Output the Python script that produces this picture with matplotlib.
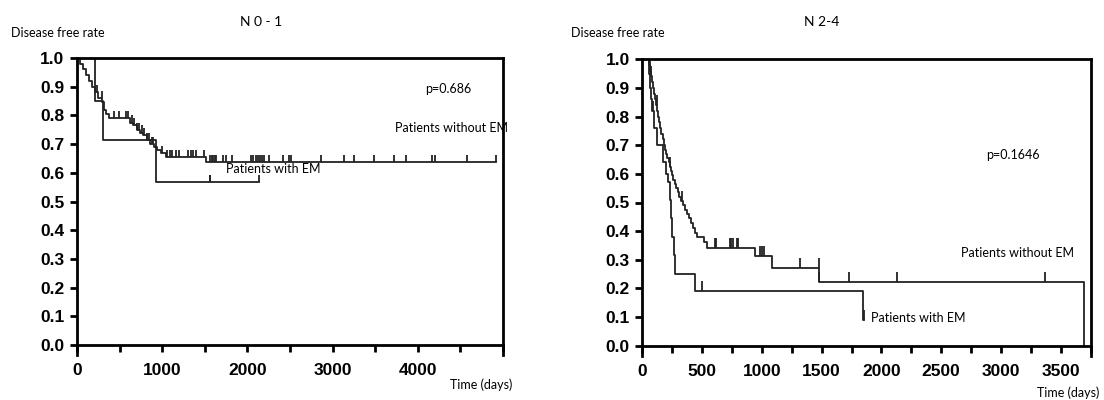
import numpy as np
import matplotlib
matplotlib.use("Agg")
import matplotlib.pyplot as plt
from matplotlib import font_manager as fm

# ---- data (days, disease free rate) ----
# N 0-1, patients without EM
left_noem_t = [40, 75, 110, 145, 180, 215, 250, 290, 320, 345, 370,
               620, 660, 700, 740, 780, 820, 860, 900, 940, 990, 1050, 1518]
left_noem_s = [0.98, 0.96, 0.94, 0.92, 0.90, 0.88, 0.86, 0.845, 0.82, 0.805, 0.79,
               0.775, 0.765, 0.75, 0.74, 0.73, 0.715, 0.70, 0.69, 0.68, 0.67, 0.656, 0.638]
left_noem_end = 4914
left_noem_cens = [235, 289, 437, 495, 574, 601, 640, 670, 700, 730, 760, 790, 820,
                  850, 880, 893, 992, 1058, 1090, 1120, 1160, 1198, 1303, 1333, 1363,
                  1393, 1491, 1565, 1580, 1600, 1620, 1636, 1713, 1753, 1823, 2045,
                  2070, 2100, 2130, 2150, 2170, 2200, 2252, 2416, 2486, 2514, 2865,
                  3130, 3247, 3489, 3716, 3861, 4165, 4204, 4582, 4914]

# N 0-1, patients with EM
left_em_t = [211, 308, 933]
left_em_s = [0.851, 0.714, 0.567]
left_em_end = 2131
left_em_cens = [1557, 1565, 2131]

# N 2-4, patients without EM
right_noem_t = [55, 62, 70, 78, 86, 95, 104, 113, 122, 131, 140, 150, 160, 170, 180,
                190, 200, 210, 220, 230, 240, 250, 260, 272, 284, 296, 310, 325, 340,
                355, 372, 390, 410, 428, 442, 456, 512, 540, 945, 1085, 1477, 3694]
right_noem_s = [0.98, 0.96, 0.94, 0.92, 0.90, 0.88, 0.86, 0.84, 0.82, 0.80, 0.78,
                0.76, 0.74, 0.72, 0.70, 0.685, 0.67, 0.655, 0.64, 0.625, 0.61, 0.595,
                0.58, 0.565, 0.55, 0.535, 0.52, 0.505, 0.49, 0.475, 0.46, 0.445, 0.43,
                0.41, 0.395, 0.38, 0.363, 0.34, 0.313, 0.270, 0.223, 0.0]
right_noem_end = 3694
right_noem_cens = [60, 65, 70, 120, 235, 330, 610, 618, 730, 745, 760, 790, 797,
                   981, 1002, 1015, 1323, 1475, 1480, 1728, 2134, 3370]

# N 2-4, patients with EM
right_em_t = [58, 65, 75, 85, 95, 121, 176, 200, 218, 232, 240, 250, 262, 274, 442, 1849]
right_em_s = [0.95, 0.90, 0.86, 0.82, 0.76, 0.70, 0.64, 0.60, 0.573, 0.509, 0.445,
              0.381, 0.317, 0.25, 0.192, 0.09]
right_em_end = 1855
right_em_cens = [90, 498, 1855]

W, H = 1104, 400
fig = plt.figure(figsize=(W / 100, H / 100), dpi=100)

# bold tick labels
tick_prop = fm.FontProperties(family=["Liberation Sans", "DejaVu Sans"], weight="bold", size=12.5)

txt_font = ["Lato", "DejaVu Sans"]
line_col = "#222222"


def km(ax, t, s, end, cens, tick_h=0.03):
    xs = np.concatenate([[0], t, [end]])
    ys = np.concatenate([[1.0], s, [s[-1]]])
    ax.step(xs, ys, where="post", color=line_col, lw=1.3)
    # censor marks sit on the curve
    idx = np.searchsorted(xs, cens, side="right") - 1
    cy = ys[idx]
    ax.vlines(cens, cy, cy + tick_h, color=line_col, lw=1.3)


def style(ax, xmax, major, minor):
    ax.set_xlim(0, xmax)
    ax.set_ylim(0, 1.0)
    ax.set_yticks(np.arange(0, 1.01, 0.1))
    ax.set_yticklabels([f"{v:.1f}" for v in np.arange(0, 1.01, 0.1)])
    ax.set_xticks(major)
    ax.set_xticklabels([str(v) for v in major])
    ax.set_xticks(minor, minor=True)
    for sp in ax.spines.values():
        sp.set_linewidth(2)
    ax.tick_params(direction="out", length=5, width=2, pad=4)
    ax.tick_params(axis="x", which="both", length=5, width=2, pad=8)
    for lab in ax.get_xticklabels() + ax.get_yticklabels():
        lab.set_fontproperties(tick_prop)
    # spine extensions below the x axis
    for xx in (0, 1):
        ax.plot([xx, xx], [0, -0.035], transform=ax.transAxes, color="black",
                lw=2, clip_on=False)


# left panel
ax1 = fig.add_axes([77 / W, 1 - 345 / H, (503 - 77) / W, (345 - 58) / H])
km(ax1, left_noem_t, left_noem_s, left_noem_end, left_noem_cens, 0.025)
km(ax1, left_em_t, left_em_s, left_em_end, left_em_cens, 0.025)
style(ax1, 5000, [0, 1000, 2000, 3000, 4000], [500, 1500, 2500, 3500, 4500, 5000])
ax1.text(4356, 0.892, "p=0.686", ha="center", va="center", family=txt_font, fontsize=9)
ax1.text(4391, 0.756, "Patients without EM", ha="center", va="center", family=txt_font, fontsize=9)
ax1.text(2307, 0.613, "Patients with EM", ha="center", va="center", family=txt_font, fontsize=9)

# right panel
ax2 = fig.add_axes([642.3 / W, 1 - 345.7 / H, (1090.7 - 642.3) / W, (345.7 - 59.3) / H])
km(ax2, right_noem_t, right_noem_s, right_noem_end, right_noem_cens, 0.035)
km(ax2, right_em_t, right_em_s, right_em_end, right_em_cens, 0.035)
style(ax2, 3750, [0, 500, 1000, 1500, 2000, 2500, 3000, 3500],
      [250, 750, 1250, 1750, 2250, 2750, 3250, 3750])
ax2.text(3101, 0.666, "p=0.1646", ha="center", va="center", family=txt_font, fontsize=9)
ax2.text(3135, 0.324, "Patients without EM", ha="center", va="center", family=txt_font, fontsize=9)
ax2.text(1915, 0.097, "Patients with EM", ha="left", va="center", family=txt_font, fontsize=9)

# figure texts
fig.text(261 / W, 1 - 22 / H, "N 0 - 1", ha="center", va="center", family=txt_font, fontsize=10)
fig.text(822 / W, 1 - 22 / H, "N 2-4", ha="center", va="center", family=txt_font, fontsize=10)
fig.text(11 / W, 1 - 33 / H, "Disease free rate", ha="left", va="center", family=txt_font, fontsize=9)
fig.text(571 / W, 1 - 33 / H, "Disease free rate", ha="left", va="center", family=txt_font, fontsize=9)
fig.text(481 / W, 1 - 385 / H, "Time (days)", ha="center", va="center", family=txt_font, fontsize=9)
fig.text(1068 / W, 1 - 393 / H, "Time (days)", ha="center", va="center", family=txt_font, fontsize=9)

fig.savefig("out.png", dpi=100)
